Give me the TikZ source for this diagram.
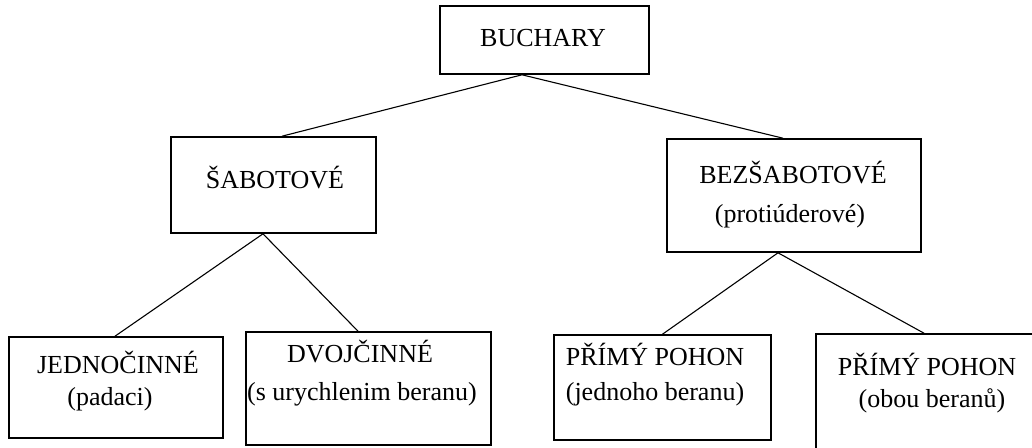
\documentclass[tikz,border=0pt]{standalone}
\usepackage{fontspec}
\setmainfont{Liberation Serif}
\begin{document}
\begin{tikzpicture}[x=1pt,y=-1pt,
  box/.style={draw=black,line width=1.6pt,minimum width=#1,inner sep=0pt,fill=none},
  lbl/.style={anchor=base,inner sep=0pt,font=\fontsize{26}{30}\selectfont},
  conn/.style={draw=black,line width=1.1pt}]
\useasboundingbox[fill=white] (0,0) rectangle (1032,447);
% boxes
\node[box=209pt,minimum height=68pt] (buch) at (544.5,40) {};
\node[box=205pt,minimum height=96pt] (sab) at (273.5,185) {};
\node[box=254pt,minimum height=113pt] (bez) at (794,195.5) {};
\node[box=214pt,minimum height=101pt] (jed) at (116,387.5) {};
\node[box=245pt,minimum height=113pt] (dvo) at (368.5,388.5) {};
\node[box=217pt,minimum height=105pt] (pr1) at (662.5,387.5) {};
\node[box=226pt,minimum height=122pt] (pr2) at (929,395) {};
% texts
\node[lbl] (tbuch) at (543,46) {BUCHARY};
\node[lbl] (tsab) at (275,188) {ŠABOTOVÉ};
\node[lbl] (tbez1) at (793,183) {BEZŠABOTOVÉ};
\node[lbl] (tbez2) at (790,222) {(protiúderové)};
\node[lbl] (tjed1) at (118,373) {JEDNOČINNÉ};
\node[lbl] (tjed2) at (110,405) {(padaci)};
\node[lbl] (tdvo1) at (360,362) {DVOJČINNÉ};
\node[lbl] (tdvo2) at (362,400) {(s urychlenim beranu)};
\node[lbl] (tpr11) at (655,365) {PŘÍMÝ POHON};
\node[lbl] (tpr12) at (655,400) {(jednoho beranu)};
\node[lbl] (tpr21) at (927,375) {PŘÍMÝ POHON};
\node[lbl] (tpr22) at (932,407) {(obou beranů)};
% connectors
\draw[conn] ([xshift=-22.5pt]buch.south) -- ([xshift=8.5pt]sab.north);
\draw[conn] ([xshift=-22.5pt]buch.south) -- ([xshift=-11pt]bez.north);
\draw[conn] ([xshift=-10.5pt]sab.south) -- ([xshift=-1pt]jed.north);
\draw[conn] ([xshift=-10.5pt]sab.south) -- ([xshift=-10.5pt]dvo.north);
\draw[conn] ([xshift=-16pt]bez.south) -- (pr1.north);
\draw[conn] ([xshift=-16pt]bez.south) -- ([xshift=-5pt]pr2.north);
\end{tikzpicture}
\end{document}
